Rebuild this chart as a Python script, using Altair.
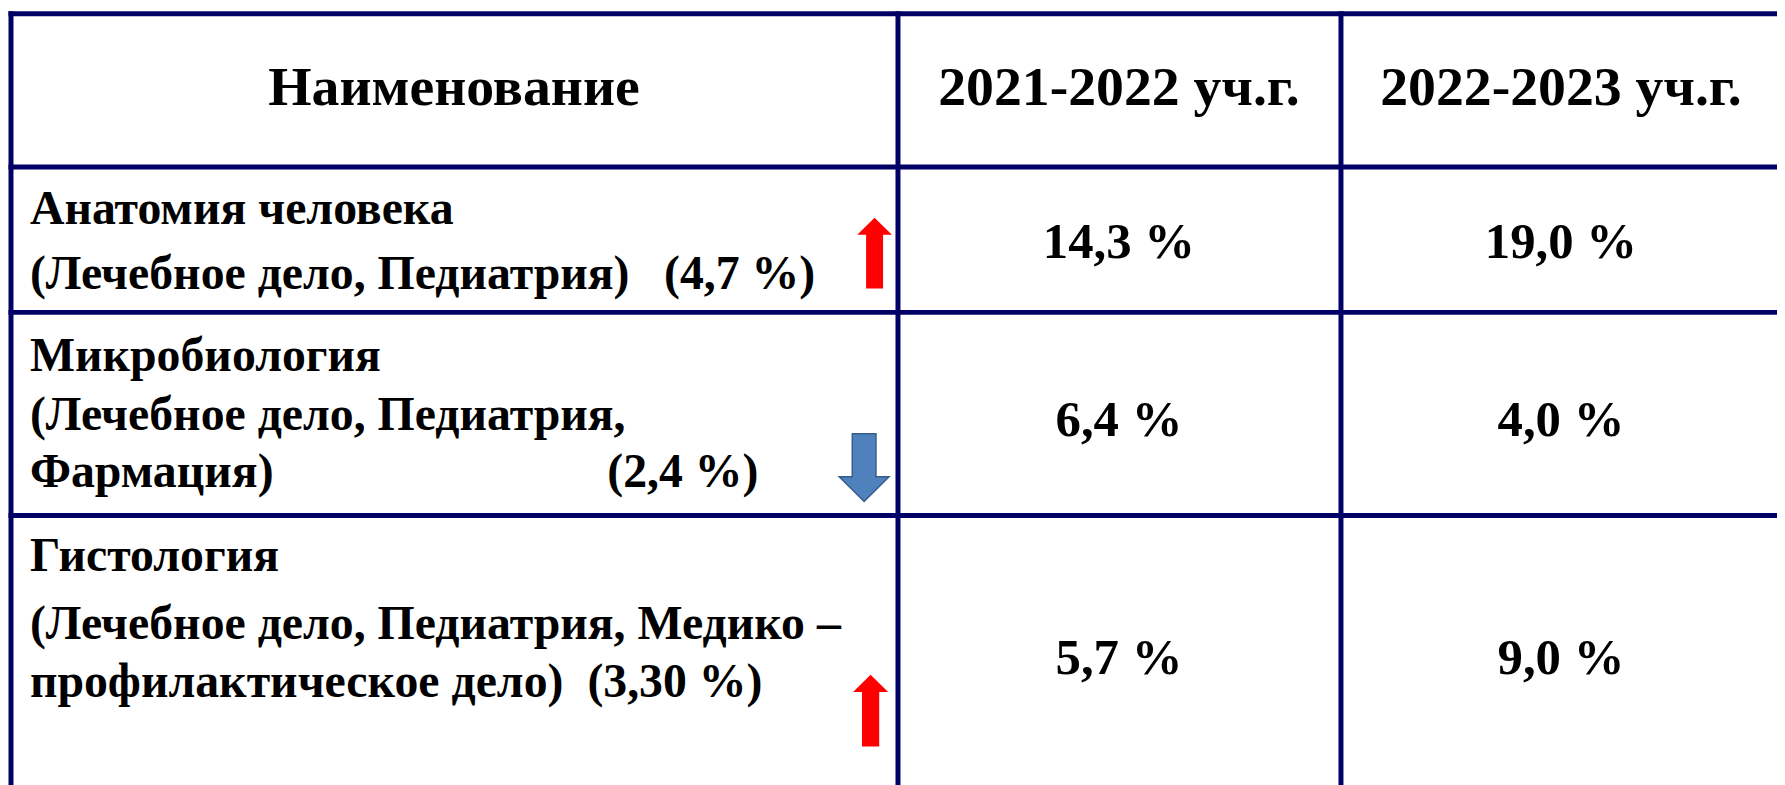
import altair as alt
import pandas as pd

# ---- table content ----
headers = ["Наименование", "2021-2022 уч.г.", "2022-2023 уч.г."]
subject_lines = [
    ["Анатомия человека", "(Лечебное дело, Педиатрия)"],
    ["Микробиология", "(Лечебное дело, Педиатрия,", "Фармация)"],
    ["Гистология", "(Лечебное дело, Педиатрия, Медико –", "профилактическое дело)"],
]
shares = ["(4,7 %)", "(2,4 %)", "(3,30 %)"]
values_2021_2022 = ["14,3 %", "6,4 %", "5,7 %"]
values_2022_2023 = ["19,0 %", "4,0 %", "9,0 %"]
trend = ["up", "down", "up"]

# ---- layout (page pixels) ----
W, H = 1777, 777
col_edges = [11, 902, 1347]
row_edges = [12, 166, 312, 516]
right_edge, bottom_edge = 1785, 785
header_baseline = 104
col_centers = [456, 1124, 1568]
value_baselines = [257, 436, 675]
line_baselines = [[223, 289], [371, 430, 487], [572, 640, 698]]
share_pos = [(667, 289), (610, 487), (590, 698)]
arrow_pos = [(878.5, 252.5, 71), (868, 468, 68), (874.5, 712, 72)]

xs = alt.Scale(domain=[8, 8 + W], range=[0, W], nice=False, zero=False)
ys = alt.Scale(domain=[8 + H, 8], range=[H, 0], nice=False, zero=False)

FONT = "Liberation Serif"
LINE = "#000066"

# grid lines
hl = pd.DataFrame({"x": [col_edges[0]] * len(row_edges), "x2": [right_edge] * len(row_edges),
                   "y": row_edges, "y2": row_edges})
vl = pd.DataFrame({"x": col_edges, "x2": col_edges,
                   "y": [row_edges[0]] * len(col_edges), "y2": [bottom_edge] * len(col_edges)})
grid = pd.concat([hl, vl], ignore_index=True)

rules = alt.Chart(grid).mark_rule(color=LINE, strokeWidth=5, strokeCap="square").encode(
    x=alt.X("x:Q", scale=xs, axis=None), x2="x2:Q",
    y=alt.Y("y:Q", scale=ys, axis=None), y2="y2:Q")

# centered texts: headers + values
center_rows = []
for i, h in enumerate(headers):
    center_rows.append({"x": col_centers[i], "y": header_baseline, "t": h, "s": 56})
for r in range(3):
    center_rows.append({"x": col_centers[1], "y": value_baselines[r], "t": values_2021_2022[r], "s": 51})
    center_rows.append({"x": col_centers[2], "y": value_baselines[r], "t": values_2022_2023[r], "s": 51})
center_df = pd.DataFrame(center_rows)

center_text = alt.Chart(center_df).mark_text(
    font=FONT, fontWeight="bold", align="center", baseline="alphabetic", color="black"
).encode(
    x=alt.X("x:Q", scale=xs, axis=None), y=alt.Y("y:Q", scale=ys, axis=None),
    text="t:N", size=alt.Size("s:Q", scale=None, legend=None))

# left-aligned texts: subject descriptions + shares
left_rows = []
for r, lines in enumerate(subject_lines):
    for k, ln in enumerate(lines):
        left_rows.append({"x": 30, "y": line_baselines[r][k], "t": ln})
    left_rows.append({"x": share_pos[r][0], "y": share_pos[r][1], "t": shares[r]})
left_df = pd.DataFrame(left_rows)

left_text = alt.Chart(left_df).mark_text(
    font=FONT, fontWeight="bold", align="left", baseline="alphabetic", color="black", fontSize=48
).encode(
    x=alt.X("x:Q", scale=xs, axis=None), y=alt.Y("y:Q", scale=ys, axis=None), text="t:N")

# trend arrows
UP = "M0,-1 L0.49,-0.52 L0.24,-0.52 L0.24,1 L-0.24,1 L-0.24,-0.52 L-0.49,-0.52 Z"
DOWN = "M-0.35,-1 L0.35,-1 L0.35,0.27 L0.735,0.27 L0,1 L-0.735,0.27 L-0.35,0.27 Z"
arr = pd.DataFrame({
    "x": [p[0] for p in arrow_pos], "y": [p[1] for p in arrow_pos],
    "size": [p[2] ** 2 for p in arrow_pos], "trend": trend,
})

up_arrows = alt.Chart(arr).transform_filter(alt.datum.trend == "up").mark_point(
    shape=UP, filled=True, fill="#FF0000", opacity=1, strokeWidth=0
).encode(x=alt.X("x:Q", scale=xs, axis=None), y=alt.Y("y:Q", scale=ys, axis=None),
         size=alt.Size("size:Q", scale=None, legend=None))

down_arrows = alt.Chart(arr).transform_filter(alt.datum.trend == "down").mark_point(
    shape=DOWN, filled=True, fill="#4F81BD", stroke="#385D8A", strokeWidth=1.5, opacity=1
).encode(x=alt.X("x:Q", scale=xs, axis=None), y=alt.Y("y:Q", scale=ys, axis=None),
         size=alt.Size("size:Q", scale=None, legend=None))

chart = alt.layer(rules, center_text, left_text, up_arrows, down_arrows).properties(
    width=W, height=H, padding=0, autosize=alt.AutoSizeParams(type="none"),
    background="white"
).configure_view(stroke=None)

chart.save("out.html", embed_options={"renderer": "svg", "actions": False})
